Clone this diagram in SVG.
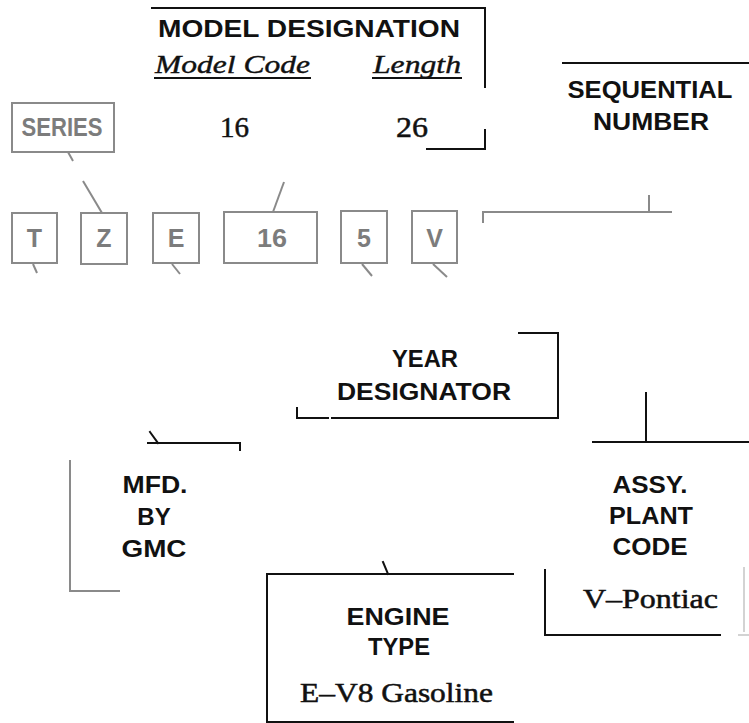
<svg xmlns="http://www.w3.org/2000/svg" width="749" height="723" viewBox="0 0 749 723">
<style>
.bg{fill:#ffffff}
.blk{fill:none;stroke:#111;stroke-width:2;stroke-linecap:square}
.gry{fill:none;stroke:#8a8a8a;stroke-width:2}
.faint{fill:none;stroke:#c4c4c4;stroke-width:1.5}
.box{fill:#fff;stroke:#8a8a8a;stroke-width:2}
.hd{font-family:"Liberation Sans",Arial,sans-serif;font-weight:bold;font-size:24px;fill:#111;text-anchor:middle}
.gl{font-family:"Liberation Sans",Arial,sans-serif;font-weight:bold;font-size:25px;fill:#7c7c7c;text-anchor:middle}
.sf{font-family:"Liberation Serif","Times New Roman",serif;font-size:29px;fill:#111;stroke:#111;stroke-width:0.5}
.it{font-family:"Liberation Serif","Times New Roman",serif;font-style:italic;font-size:25px;fill:#111;stroke:#111;stroke-width:0.4}
.sv{font-family:"Liberation Serif","Times New Roman",serif;font-size:27px;fill:#111;stroke:#111;stroke-width:0.5}
</style>
<rect class="bg" x="0" y="0" width="749" height="723"/>

<g id="connectors">
  <path class="blk" d="M152,8 H485 V87"/>
  <path class="blk" d="M427,149 H485 V130"/>
  <path class="blk" d="M563,63 H749"/>
  <path class="gry" d="M68,152 L73,161"/>
  <path class="gry" d="M83,181 L102,213"/>
  <path class="gry" d="M284,182 L273,212"/>
  <path class="gry" d="M33,264 L37,273"/>
  <path class="gry" d="M172,264 L180,274"/>
  <path class="gry" d="M362,264 L372,276"/>
  <path class="gry" d="M433,264 L447,277"/>
  <path class="gry" d="M483,223 V212 H672"/>
  <path class="gry" d="M649,195 V212"/>
  <path class="blk" d="M519,333 H558 V418 H332"/>
  <path class="blk" d="M328,418 H297 V408"/>
  <path class="blk" d="M646,393 V442"/>
  <path class="blk" d="M593,442 H749"/>
  <path class="blk" d="M150,432 L158,443"/>
  <path class="blk" d="M148,443 H240 V450"/>
  <path class="gry" d="M70,460 V591 H120"/>
  <path class="blk" d="M545,570 V635 H720"/>
  <path class="faint" d="M738,635 H749"/>
  <path class="faint" d="M744,567 V632"/>
  <path class="blk" d="M513,574 H267 V722 H513"/>
  <path class="blk" d="M383,562 L388,574"/>
  <path class="blk" d="M155,78 H310"/>
  <path class="blk" d="M373,78 H461"/>
</g>

<g id="model-designation">
  <text class="hd" x="309" y="37" textLength="302" lengthAdjust="spacingAndGlyphs">MODEL  DESIGNATION</text>
  <text class="it" x="155" y="73" textLength="155" lengthAdjust="spacingAndGlyphs">Model Code</text>
  <text class="it" x="373" y="73" textLength="88" lengthAdjust="spacingAndGlyphs">Length</text>
  <text class="sf" x="220" y="137" textLength="29" lengthAdjust="spacingAndGlyphs">16</text>
  <text class="sf" x="396" y="137" textLength="32" lengthAdjust="spacingAndGlyphs">26</text>
</g>

<g id="series">
  <rect class="box" x="12" y="103" width="102" height="49"/>
  <text class="gl" x="62" y="136" textLength="81" lengthAdjust="spacingAndGlyphs">SERIES</text>
</g>

<g id="sequential-number">
  <text class="hd" x="650" y="98" textLength="165" lengthAdjust="spacingAndGlyphs">SEQUENTIAL</text>
  <text class="hd" x="651" y="130" textLength="116" lengthAdjust="spacingAndGlyphs">NUMBER</text>
</g>

<g id="box-T"><rect class="box" x="12" y="213" width="45" height="50"/><text class="gl" x="34.5" y="247">T</text></g>
<g id="box-Z"><rect class="box" x="81" y="213" width="46" height="51"/><text class="gl" x="104" y="247">Z</text></g>
<g id="box-E"><rect class="box" x="153" y="213" width="46" height="50"/><text class="gl" x="176" y="247">E</text></g>
<g id="box-16"><rect class="box" x="224" y="212" width="93" height="51"/><text class="gl" x="272" y="247" textLength="30" lengthAdjust="spacingAndGlyphs">16</text></g>
<g id="box-5"><rect class="box" x="341" y="211" width="46" height="52"/><text class="gl" x="364" y="247">5</text></g>
<g id="box-V"><rect class="box" x="412" y="211" width="45" height="52"/><text class="gl" x="434.5" y="247">V</text></g>

<g id="year-designator">
  <text class="hd" x="425" y="367" textLength="66" lengthAdjust="spacingAndGlyphs">YEAR</text>
  <text class="hd" x="424" y="400" textLength="174" lengthAdjust="spacingAndGlyphs">DESIGNATOR</text>
</g>

<g id="mfd-by-gmc">
  <text class="hd" x="155" y="493" textLength="65" lengthAdjust="spacingAndGlyphs">MFD.</text>
  <text class="hd" x="154" y="525">BY</text>
  <text class="hd" x="154" y="557" textLength="65" lengthAdjust="spacingAndGlyphs">GMC</text>
</g>

<g id="assy-plant-code">
  <text class="hd" x="650" y="493" textLength="75" lengthAdjust="spacingAndGlyphs">ASSY.</text>
  <text class="hd" x="651" y="524" textLength="84" lengthAdjust="spacingAndGlyphs">PLANT</text>
  <text class="hd" x="650" y="555" textLength="75" lengthAdjust="spacingAndGlyphs">CODE</text>
  <text class="sv" x="583" y="608" textLength="135" lengthAdjust="spacingAndGlyphs">V–Pontiac</text>
</g>

<g id="engine-type">
  <text class="hd" x="398" y="625" textLength="103" lengthAdjust="spacingAndGlyphs">ENGINE</text>
  <text class="hd" x="399" y="655" textLength="62" lengthAdjust="spacingAndGlyphs">TYPE</text>
  <text class="sv" x="300" y="702" textLength="193" lengthAdjust="spacingAndGlyphs">E–V8 Gasoline</text>
</g>
</svg>
